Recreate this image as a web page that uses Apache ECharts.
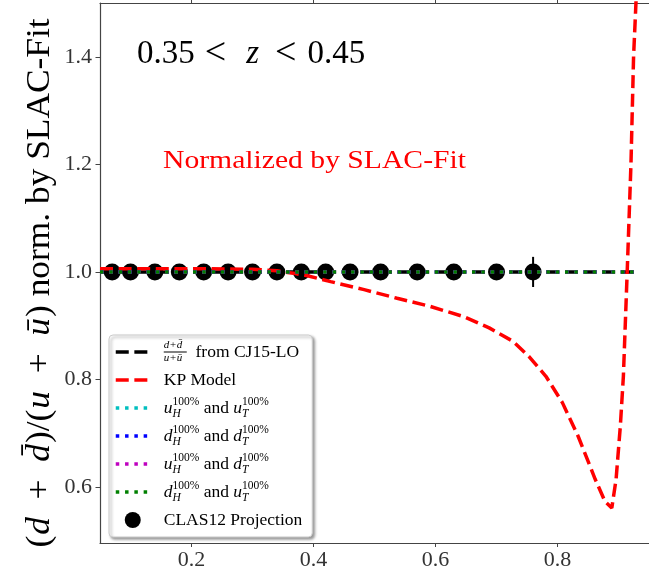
<!DOCTYPE html>
<html><head><meta charset="utf-8">
<script src="https://cdn.jsdelivr.net/npm/echarts@6/dist/echarts.min.js"></script>
<style>html,body{margin:0;padding:0;background:#fff}#c{width:649px;height:572px}</style>
</head><body><div id="c"></div>
<script>
// ---- data ----
const xTicks = [0.2, 0.4, 0.6, 0.8];
const yTicks = [0.6, 0.8, 1.0, 1.2, 1.4];
const clasX = [0.07, 0.10, 0.14, 0.18, 0.22, 0.26, 0.30, 0.34, 0.38, 0.42, 0.46, 0.51, 0.57, 0.63, 0.70, 0.76];
const clasY = [1, 1, 1, 1, 1, 1, 1, 1, 1, 1, 1, 1, 1, 1, 1, 1];
const clasErr = [0.004, 0.004, 0.004, 0.004, 0.004, 0.005, 0.005, 0.005, 0.006, 0.006, 0.007, 0.008, 0.009, 0.010, 0.012, 0.028];
const cj15X = [0.05, 0.2, 0.4, 0.6, 0.8, 0.93];
const cj15Y = [1, 1, 1, 1, 1, 1];
const kpX = [0.05, 0.20, 0.30, 0.34, 0.37, 0.39, 0.428, 0.483, 0.537, 0.591, 0.646, 0.688, 0.727, 0.753, 0.781, 0.808, 0.834, 0.862, 0.878, 0.889, 0.896, 0.903, 0.908, 0.911, 0.914, 0.9205, 0.9247, 0.929];
const kpY = [1.006, 1.006, 1.005, 1.002, 0.997, 0.993, 0.982, 0.967, 0.951, 0.936, 0.917, 0.896, 0.871, 0.843, 0.806, 0.757, 0.694, 0.614, 0.573, 0.561, 0.614, 0.713, 0.806, 0.899, 0.992, 1.203, 1.40, 1.51];
const uHuTX = [0.05, 0.2, 0.4, 0.6, 0.8, 0.93];
const uHuTY = [1, 1, 1, 1, 1, 1];
const dHdTX = [0.05, 0.2, 0.4, 0.6, 0.8, 0.93];
const dHdTY = [1, 1, 1, 1, 1, 1];
const uHdTX = [0.05, 0.2, 0.4, 0.6, 0.8, 0.93];
const uHdTY = [1, 1, 1, 1, 1, 1];
const dHuTX = [0.05, 0.2, 0.4, 0.6, 0.8, 0.93];
const dHuTY = [1, 1, 1, 1, 1, 1];

const zip = (a, b) => a.map((v, i) => [v, b[i]]);
const SERIF = '"Liberation Serif", "DejaVu Serif", serif';
const DASH = [13, 5.6];
const DOT = [3.5, 5.8];
const LW = 3.5;
const COLORS = { CJ15: '#000000', KP: '#ff0000', uu: '#00bfbf', dd: '#0000ff', ud: '#bf00bf', du: '#008000' };

function lineSeries(name, xs, ys, type) {
  return {
    name, type: 'line', data: zip(xs, ys), symbol: 'none', showSymbol: false,
    lineStyle: { color: COLORS[name], width: LW, type, cap: 'butt' }, itemStyle: { color: COLORS[name] },
    silent: true, animation: false, clip: true
  };
}

const legendText = {
  'CJ15': '{fn|d+d\u0304}{fd|u+u\u0304}{bar| }{r|  from CJ15-LO}',
  'KP': '{r|KP Model}',
  'uu': '{i|u}{sub|H}{sup|100%}{r| and }{i|u}{sub|T}{sup|100%}',
  'dd': '{i|d}{sub|H}{sup|100%}{r| and }{i|d}{sub|T}{sup|100%}',
  'ud': '{i|u}{sub|H}{sup|100%}{r| and }{i|d}{sub|T}{sup|100%}',
  'du': '{i|d}{sub|H}{sup|100%}{r| and }{i|u}{sub|T}{sup|100%}',
  'CLAS12': '{r|CLAS12 Projection}'
};
const lineLegend = (name, type) => ({
  name, itemStyle: { opacity: 0 },
  lineStyle: { color: COLORS[name], width: LW, type, cap: 'butt' }
});
const LH = 24;

const chart = echarts.init(document.getElementById('c'), null, { renderer: 'canvas' });
chart.setOption({
  backgroundColor: '#fff',
  animation: false,
  grid: { left: 100, right: -5, top: 3, bottom: 29, containLabel: false },
  xAxis: [{
    type: 'value', min: 0.05, max: 0.95, position: 'bottom',
    axisLine: { show: true, lineStyle: { color: '#444', width: 1.2 } },
    axisTick: { show: true, inside: false, length: 4, customValues: xTicks, lineStyle: { color: '#444', width: 1 } },
    axisLabel: { show: true, customValues: xTicks, formatter: v => v.toFixed(1), fontFamily: SERIF, fontSize: 22, color: '#333', margin: 6 },
    splitLine: { show: false }
  }, {
    type: 'value', min: 0.05, max: 0.95, position: 'top',
    axisLine: { show: true, lineStyle: { color: '#444', width: 1.2 } },
    axisTick: { show: true, inside: false, length: 3, customValues: xTicks, lineStyle: { color: '#444', width: 1 } },
    axisLabel: { show: false }, splitLine: { show: false }
  }],
  yAxis: [{
    type: 'value', min: 0.496, max: 1.5,
    axisLine: { show: true, lineStyle: { color: '#444', width: 1.2 } },
    axisTick: { show: true, inside: false, length: 4.5, customValues: yTicks, lineStyle: { color: '#444', width: 1 } },
    axisLabel: { show: true, customValues: yTicks, formatter: v => v.toFixed(1), fontFamily: SERIF, fontSize: 22, color: '#333', margin: 8 },
    splitLine: { show: false }
  }],
  legend: {
    orient: 'vertical', left: 109, top: 335,
    data: [lineLegend('CJ15', DASH), lineLegend('KP', DASH), lineLegend('uu', DOT), lineLegend('dd', DOT),
           lineLegend('ud', DOT), lineLegend('du', DOT), { name: 'CLAS12', icon: 'circle' }],
    itemWidth: 34, itemHeight: 16, itemGap: 4,
    padding: [5, 10, 5, 5],
    backgroundColor: '#fff', borderColor: '#ccc', borderWidth: 1, borderRadius: 4,
    shadowBlur: 3, shadowColor: 'rgba(0,0,0,0.4)', shadowOffsetX: 2, shadowOffsetY: 2,
    selectedMode: false,
    formatter: name => legendText[name],
    textStyle: {
      lineHeight: LH, padding: [0, 0, 0, 9], color: '#000',
      rich: {
        r: { fontFamily: SERIF, fontSize: 17.5, color: '#000', lineHeight: LH },
        i: { fontFamily: SERIF, fontSize: 17.5, fontStyle: 'italic', color: '#000', lineHeight: LH },
        sup: { fontFamily: SERIF, fontSize: 11.5, color: '#000', verticalAlign: 'top', lineHeight: LH },
        sub: { fontFamily: SERIF, fontSize: 11.5, fontStyle: 'italic', color: '#000', width: 0, verticalAlign: 'bottom', lineHeight: LH },
        fn: { fontFamily: SERIF, fontSize: 11, fontStyle: 'italic', color: '#000', width: 0, verticalAlign: 'top', lineHeight: LH },
        fd: { fontFamily: SERIF, fontSize: 11, fontStyle: 'italic', color: '#000', width: 0, verticalAlign: 'bottom', lineHeight: LH },
        bar: { fontSize: 10, width: 23, height: 1, backgroundColor: '#000', lineHeight: LH }
      }
    }
  },
  graphic: [
    { type: 'text', x: 137, y: 54, z: 100, style: {
        text: '{r|0.35}{o1|<}{i|z}{o2|<}{r|0.45}', verticalAlign: 'middle',
        rich: {
          r: { fontFamily: SERIF, fontSize: 33, fill: '#000' },
          i: { fontFamily: SERIF, fontSize: 33, fontStyle: 'italic', fill: '#000' },
          o1: { fontFamily: SERIF, fontSize: 38, fill: '#000', padding: [0, 20, 0, 10] },
          o2: { fontFamily: SERIF, fontSize: 38, fill: '#000', padding: [0, 11, 0, 16] }
        }
    } },
    { type: 'text', x: 163, y: 161, z: 100, scaleX: 1.14, style: {
        text: 'Normalized by SLAC-Fit', verticalAlign: 'middle', fontFamily: SERIF, fontSize: 26, fill: '#ff0000'
    } },
    { type: 'text', x: 40, y: 283, z: 100, rotation: Math.PI / 2, scaleX: 1.04, style: {
        text: '{r|(}{i|d}{pl|+}{i|d\u0304}{r|)/(}{i|u}{pl|+}{i|u\u0304}{r|) norm. by SLAC-Fit}',
        align: 'center', verticalAlign: 'middle',
        rich: {
          r: { fontFamily: SERIF, fontSize: 34, fill: '#000' },
          i: { fontFamily: SERIF, fontSize: 34, fontStyle: 'italic', fill: '#000', padding: [0, 1, 0, 1] },
          pl: { fontFamily: SERIF, fontSize: 34, fill: '#000', padding: [0, 16, 0, 16] }
        }
    } }
  ],
  series: [
    lineSeries('CJ15', cj15X, cj15Y, DASH),
    lineSeries('KP', kpX, kpY, DASH),
    lineSeries('uu', uHuTX, uHuTY, DOT),
    lineSeries('dd', dHdTX, dHdTY, DOT),
    lineSeries('ud', uHdTX, uHdTY, DOT),
    lineSeries('du', dHuTX, dHuTY, DOT),
    {
      name: 'err', type: 'custom', silent: true,
      data: clasX.map((x, i) => [x, clasY[i], clasErr[i]]),
      renderItem: (params, api) => {
        const x = api.value(0), y = api.value(1), e = api.value(2);
        const p1 = api.coord([x, y - e]), p2 = api.coord([x, y + e]);
        return { type: 'line', shape: { x1: p1[0], y1: p1[1], x2: p2[0], y2: p2[1] }, style: { stroke: '#000', lineWidth: 2 } };
      }
    },
    {
      name: 'CLAS12', type: 'scatter', data: zip(clasX, clasY), symbol: 'circle', symbolSize: 17,
      itemStyle: { color: '#000', opacity: 1 }, silent: true
    }
  ]
});
</script></body></html>
